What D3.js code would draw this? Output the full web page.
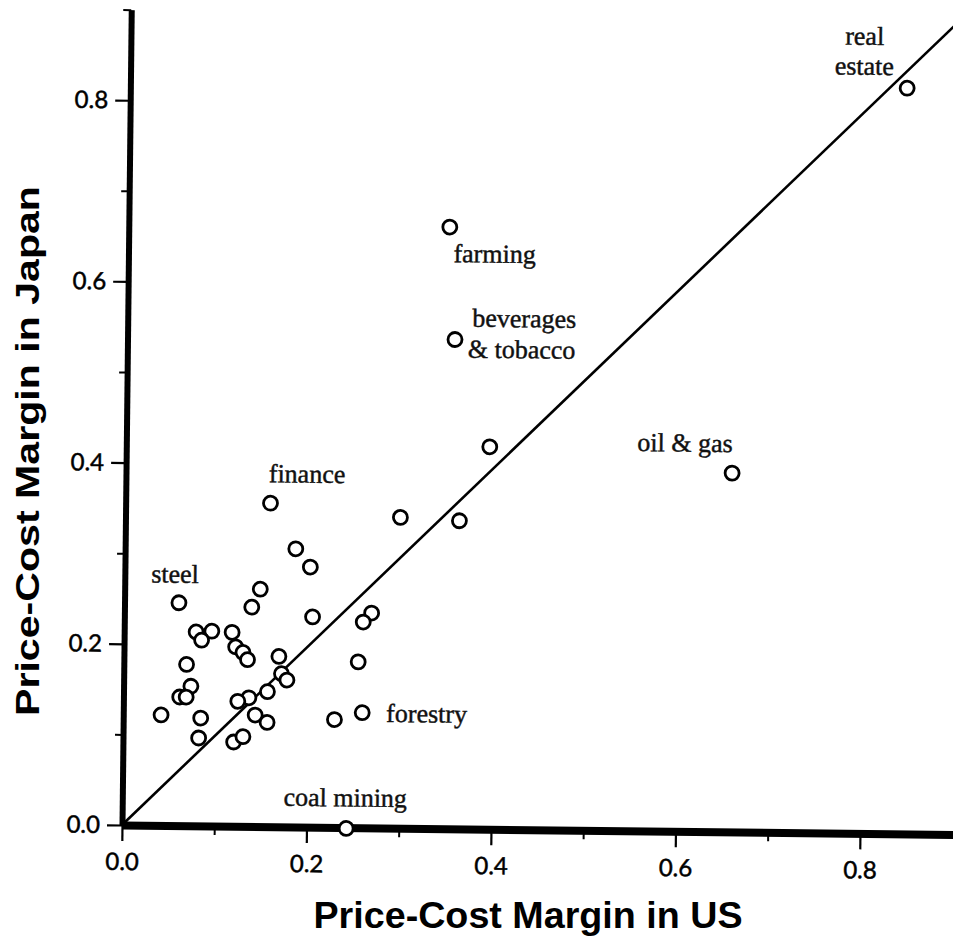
<!DOCTYPE html>
<html>
<head>
<meta charset="utf-8">
<script src="https://cdn.jsdelivr.net/npm/d3@7"></script>
<style>
  body { margin: 0; background: #fff; }
  svg { display: block; }
</style>
</head>
<body>
<svg id="chart" width="953" height="942"></svg>
<script>
// Industry price-cost margins, US (x) vs Japan (y).
// Only the industries named on the chart carry a name; the rest are null.
const industry = [
  "real estate", "farming", "beverages & tobacco", "oil & gas",
  "finance", "steel", "forestry", "coal mining",
  null, null, null, null, null, null, null, null, null, null, null, null,
  null, null, null, null, null, null, null, null, null, null, null, null,
  null, null, null, null, null, null, null, null, null, null, null, null
];
const usMargin = [
  0.842, 0.348, 0.355, 0.657, 0.157, 0.059, 0.259, 0.243,
  0.394, 0.298, 0.362, 0.185, 0.201, 0.147, 0.138, 0.204,
  0.268, 0.259, 0.078, 0.095, 0.084, 0.117, 0.121, 0.129,
  0.134, 0.168, 0.171, 0.177, 0.254, 0.068, 0.073, 0.061,
  0.068, 0.156, 0.136, 0.124, 0.041, 0.084, 0.143, 0.156,
  0.229, 0.082, 0.120, 0.130
];
const japanMargin = [
  0.823, 0.664, 0.540, 0.396, 0.357, 0.246, 0.127, -0.001,
  0.422, 0.343, 0.340, 0.307, 0.287, 0.262, 0.242, 0.232,
  0.237, 0.227, 0.214, 0.215, 0.205, 0.214, 0.198, 0.192,
  0.184, 0.188, 0.169, 0.162, 0.183, 0.178, 0.154, 0.142,
  0.142, 0.149, 0.142, 0.138, 0.122, 0.119, 0.123, 0.115,
  0.119, 0.097, 0.093, 0.099
];
const xTicks = [0.0, 0.2, 0.4, 0.6, 0.8];
const yTicks = [0.0, 0.2, 0.4, 0.6, 0.8];
const xMinorTicks = [0.1, 0.3, 0.5, 0.7];
const yMinorTicks = [0.1, 0.3, 0.5, 0.7, 0.9];
const xTitle = "Price-Cost Margin in US";
const yTitle = "Price-Cost Margin in Japan";

// Label placement (pixel offsets from each named point).
const labelLayout = {
  "real estate":         { lines: ["real", "estate"], anchor: "middle", dx: [-43, -43], dy: [-43, -13] },
  "farming":             { lines: ["farming"], anchor: "start", dx: [4], dy: [35] },
  "beverages & tobacco": { lines: ["beverages", "& tobacco"], anchor: "start", dx: [17, 13], dy: [-13, 18] },
  "oil & gas":           { lines: ["oil & gas"], anchor: "start", dx: [-95], dy: [-21] },
  "finance":             { lines: ["finance"], anchor: "start", dx: [-2], dy: [-21] },
  "steel":               { lines: ["steel"], anchor: "start", dx: [-28], dy: [-20] },
  "forestry":            { lines: ["forestry"], anchor: "start", dx: [24], dy: [9] },
  "coal mining":         { lines: ["coal mining"], anchor: "start", dx: [-63], dy: [-22] }
};

const svg = d3.select("#chart");
const origin = { x: 122, y: 825 };
const tilt = 0.65; // the printed plot frame sits slightly rotated on the page

const x = d3.scaleLinear().domain([0, 0.92]).range([0, 0.92 * 922.5]);
const y = d3.scaleLinear().domain([0, 0.9]).range([0, -0.9 * 906]);

const plot = svg.append("g")
  .attr("transform", `translate(${origin.x},${origin.y}) rotate(${tilt})`);

const tickFont = "Lato, 'Liberation Sans', sans-serif";
const labelFont = "'Liberation Serif', 'Times New Roman', serif";

// 45-degree reference line (equal margins)
plot.append("line")
  .attr("x1", x(0)).attr("y1", y(0))
  .attr("x2", x(0.92)).attr("y2", y(0) + (y(0.9) - y(0)) * (0.92 / 0.9))
  .attr("stroke", "#000").attr("stroke-width", 2.6);

// X axis
const xAxis = plot.append("g")
  .call(d3.axisBottom(x).tickValues(xTicks).tickSize(16).tickSizeOuter(0)
    .tickPadding(12).tickFormat(d3.format(".1f")));
xAxis.select(".domain").attr("stroke-width", 8);
xAxis.selectAll(".tick line").attr("stroke-width", 2.2);
xAxis.selectAll(".tick text")
  .attr("font-family", tickFont).attr("font-size", 24).attr("fill", "#000")
  .attr("stroke", "#000").attr("stroke-width", 0.5);

const xMinor = plot.append("g")
  .call(d3.axisBottom(x).tickValues(xMinorTicks).tickSize(9).tickFormat(""));
xMinor.select(".domain").remove();
xMinor.selectAll(".tick line").attr("stroke-width", 2);

// Y axis
const yAxis = plot.append("g")
  .call(d3.axisLeft(y).tickValues(yTicks).tickSize(15).tickSizeOuter(0)
    .tickPadding(7).tickFormat(d3.format(".1f")));
yAxis.select(".domain").attr("stroke-width", 6);
yAxis.selectAll(".tick line").attr("stroke-width", 2.2);
yAxis.selectAll(".tick text")
  .attr("font-family", tickFont).attr("font-size", 24).attr("fill", "#000")
  .attr("stroke", "#000").attr("stroke-width", 0.5);

const yMinor = plot.append("g")
  .call(d3.axisLeft(y).tickValues(yMinorTicks).tickSize(8).tickFormat(""));
yMinor.select(".domain").remove();
yMinor.selectAll(".tick line").attr("stroke-width", 2);

// Industry points
const points = usMargin.map((u, i) => ({ name: industry[i], us: u, jp: japanMargin[i] }));

plot.append("g").selectAll("circle")
  .data(points)
  .join("circle")
  .attr("cx", d => x(d.us))
  .attr("cy", d => y(d.jp))
  .attr("r", 7)
  .attr("fill", "#fff")
  .attr("stroke", "#000")
  .attr("stroke-width", 2.8);

// Industry names
const labels = plot.append("g")
  .attr("font-family", labelFont)
  .attr("font-size", 26)
  .attr("fill", "#111")
  .attr("stroke", "#111")
  .attr("stroke-width", 0.45);

points.filter(d => d.name).forEach(d => {
  const lay = labelLayout[d.name];
  const t = labels.append("text").attr("text-anchor", lay.anchor);
  lay.lines.forEach((line, k) => {
    t.append("tspan")
      .attr("x", x(d.us) + lay.dx[k])
      .attr("y", y(d.jp) + lay.dy[k])
      .text(line);
  });
});

// Axis titles
svg.append("text")
  .attr("x", 528).attr("y", 928)
  .attr("text-anchor", "middle")
  .attr("font-family", "'Liberation Sans', Arial, sans-serif")
  .attr("font-weight", "bold")
  .attr("font-size", 36)
  .attr("textLength", 429)
  .attr("lengthAdjust", "spacingAndGlyphs")
  .text(xTitle);

svg.append("text")
  .attr("transform", "translate(39,451) rotate(-90)")
  .attr("text-anchor", "middle")
  .attr("font-family", "'Liberation Sans', Arial, sans-serif")
  .attr("font-weight", "bold")
  .attr("font-size", 34)
  .attr("textLength", 530)
  .attr("lengthAdjust", "spacingAndGlyphs")
  .text(yTitle);
</script>
</body>
</html>
